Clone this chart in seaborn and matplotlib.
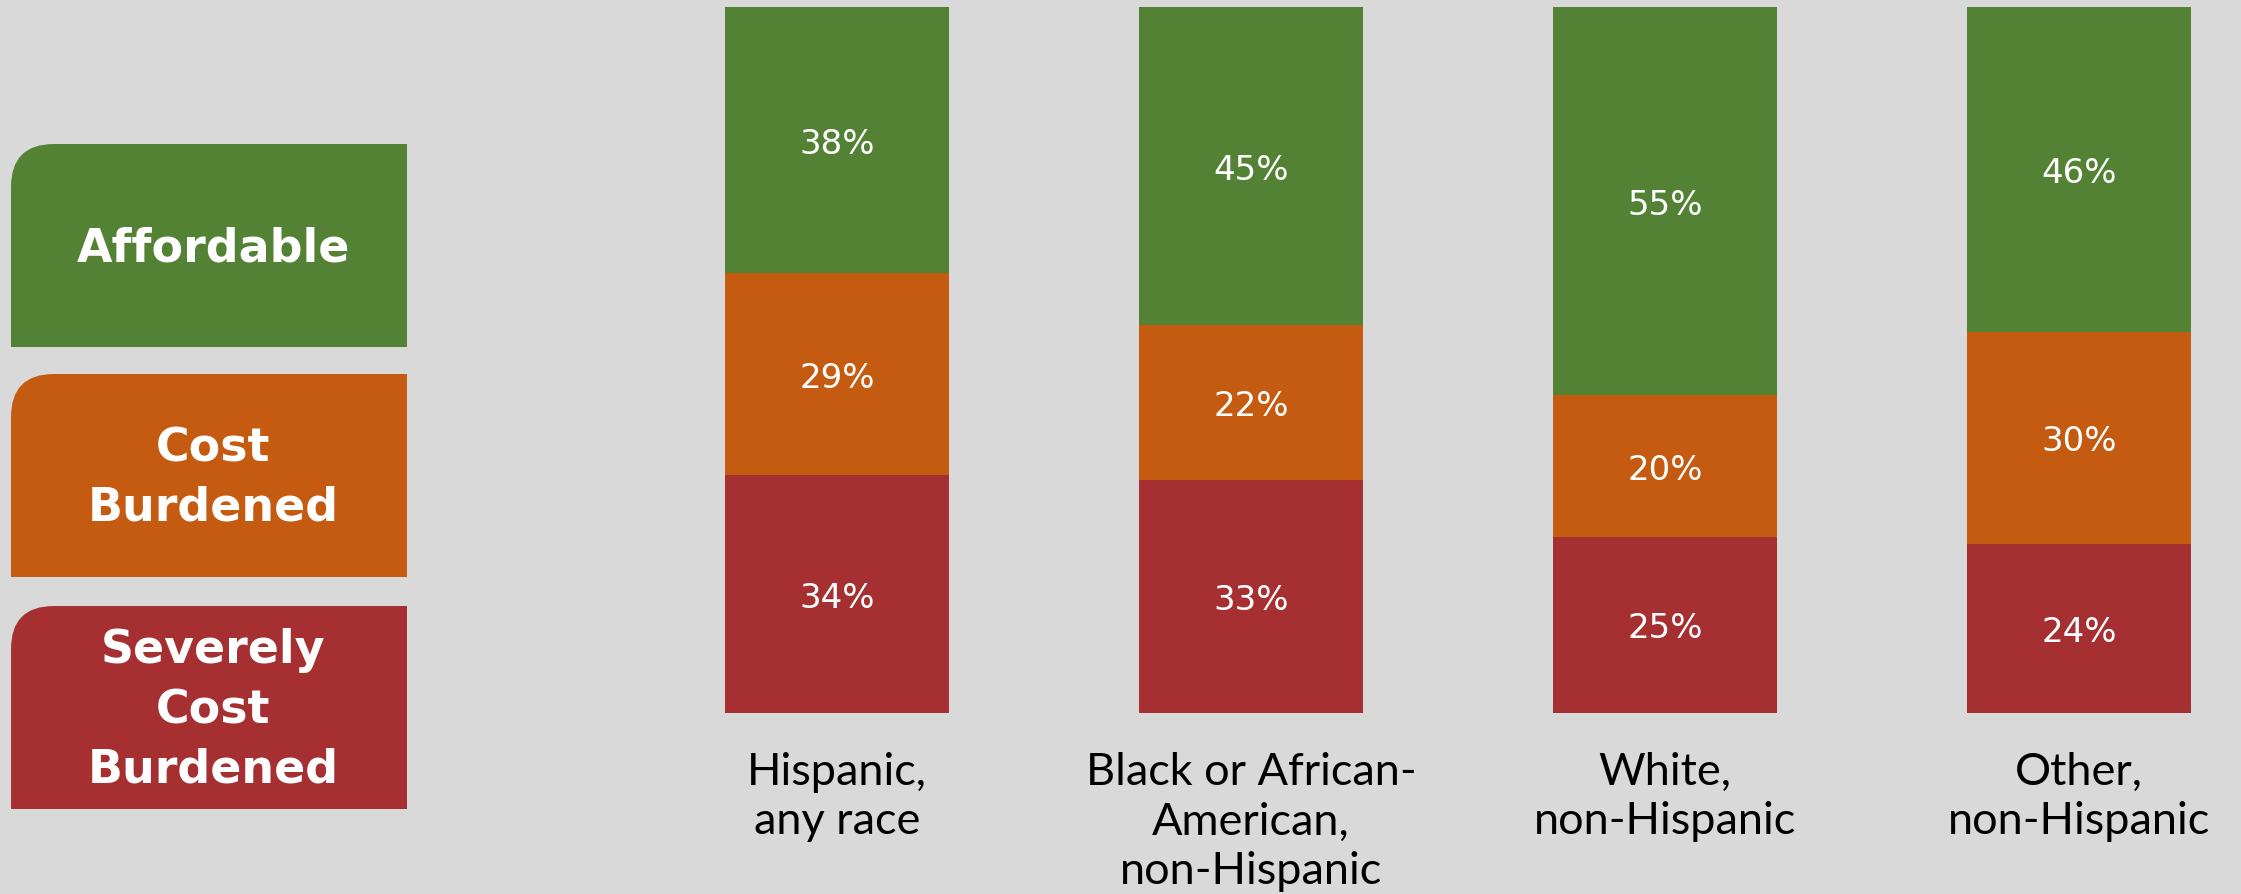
import matplotlib
matplotlib.use("Agg")
import matplotlib.pyplot as plt
import seaborn as sns
import pandas as pd
import numpy as np
from matplotlib.path import Path
from matplotlib.patches import PathPatch

categories = ["Hispanic,\nany race", "Black or African-\nAmerican,\nnon-Hispanic",
              "White,\nnon-Hispanic", "Other,\nnon-Hispanic"]
severely = [34, 33, 25, 24]
cost_burdened = [29, 22, 20, 30]
affordable = [38, 45, 55, 46]
legend_labels = ["Affordable", "Cost\nBurdened", "Severely\nCost\nBurdened"]

GREEN = "#548235"
ORANGE = "#C55A11"
RED = "#A52F31"
BG = "#D9D9D9"

sns.set_theme(style="white")
plt.rcParams["font.family"] = ["DejaVu Sans"]

W, H = 2241, 894
fig = plt.figure(figsize=(W / 100, H / 100), dpi=100, facecolor=BG)

sev = np.array(severely, float)
cb = np.array(cost_burdened, float)
aff = np.array(affordable, float)
tot = sev + cb + aff
sev_n = sev / tot * 100
cb_n = cb / tot * 100
aff_n = aff / tot * 100

df = pd.DataFrame({
    "cat": categories,
    "c1": sev_n,
    "c2": sev_n + cb_n,
    "c3": sev_n + cb_n + aff_n,
})

# main axes
left_px, right_px = 630, 2241
bot_px, top_px = 713, 7
ax = fig.add_axes([left_px / W, 1 - bot_px / H, (right_px - left_px) / W, (bot_px - top_px) / H])
ax.set_facecolor(BG)
for col, color in [("c3", GREEN), ("c2", ORANGE), ("c1", RED)]:
    sns.barplot(data=df, x="cat", y=col, color=color, width=0.54, ax=ax,
                saturation=1, edgecolor="none", linewidth=0)

ax.set_xlim(-0.5, (right_px - 837) / 414)
ax.set_ylim(0, 100)
ax.set_xlabel("")
ax.set_ylabel("")
ax.set_yticks([])
for s in ax.spines.values():
    s.set_visible(False)
ax.tick_params(axis="x", length=0, pad=28)
ax.set_xticks(range(len(categories)))
ax.set_xticklabels(categories, fontsize=32.5, family=["Lato", "DejaVu Sans"],
                   fontweight="normal", color="#000000", linespacing=1.26)

dy = 0.6
for i in range(len(categories)):
    ax.text(i, sev_n[i] / 2 - dy, f"{severely[i]}%", ha="center", va="center",
            color="white", fontsize=24.5)
    ax.text(i, sev_n[i] + cb_n[i] / 2 - dy, f"{cost_burdened[i]}%", ha="center", va="center",
            color="white", fontsize=24.5)
    ax.text(i, sev_n[i] + cb_n[i] + aff_n[i] / 2 - dy, f"{affordable[i]}%", ha="center",
            va="center", color="white", fontsize=24.5)

# legend boxes
lax = fig.add_axes([0, 0, 1, 1], zorder=-1)
lax.set_xlim(0, W)
lax.set_ylim(H, 0)
lax.axis("off")
boxes = [(144, 347, GREEN), (374, 577, ORANGE), (606, 809, RED)]
x0, x1, r = 11, 407, 43
for (y0, y1, color), lab in zip(boxes, legend_labels):
    verts = [(x0, y1), (x1, y1), (x1, y0), (x0 + r, y0), (x0, y0), (x0, y0 + r), (x0, y1), (x0, y1)]
    codes = [Path.MOVETO, Path.LINETO, Path.LINETO, Path.LINETO, Path.CURVE3, Path.CURVE3,
             Path.LINETO, Path.CLOSEPOLY]
    lax.add_patch(PathPatch(Path(verts, codes), facecolor=color, edgecolor="none"))
    lax.text((x0 + x1) / 2 + 4, (y0 + y1) / 2 + 3, lab, ha="center", va="center", color="white",
             fontsize=33, fontweight="bold", linespacing=1.42)

fig.savefig("out.png", dpi=100, facecolor=BG)
